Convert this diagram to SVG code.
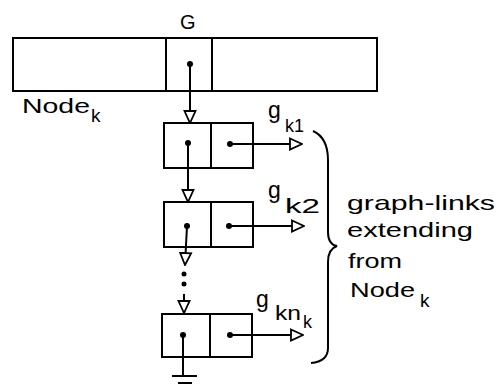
<svg xmlns="http://www.w3.org/2000/svg" width="501" height="388" viewBox="0 0 501 388">
<defs>
<style>
.ln{stroke:#000;stroke-width:2;fill:none}
.box{stroke:#000;stroke-width:2;fill:#fff}
.dot{fill:#000}
.t{font-family:"Liberation Sans","DejaVu Sans",sans-serif;fill:#000}
</style>
<marker id="ad" viewBox="0 0 14 14" refX="13" refY="7" markerWidth="14" markerHeight="14" markerUnits="userSpaceOnUse" orient="auto">
<path d="M1,1.5 L13,7 L1,12.5 Z" fill="#fff" stroke="#000" stroke-width="1.8"/>
</marker>
</defs>
<rect width="501" height="388" fill="#fff"/>

<g id="nodek">
<rect class="box" x="13" y="38" width="364" height="53"/>
<line class="ln" x1="166" y1="38" x2="166" y2="91"/>
<line class="ln" x1="212" y1="38" x2="212" y2="91"/>
<circle class="dot" cx="190" cy="64" r="3"/>
<text class="t" x="180" y="29" font-size="20">G</text>
<text class="t" x="22" y="113" font-size="21" textLength="68" lengthAdjust="spacingAndGlyphs">Node</text>
<text class="t" x="91" y="122" font-size="19">k</text>
</g>

<g id="link1">
<rect class="box" x="164" y="123" width="89" height="45"/>
<line class="ln" x1="211" y1="123" x2="211" y2="168"/>
<circle class="dot" cx="188" cy="143" r="3"/>
<circle class="dot" cx="230" cy="144" r="3"/>
<text class="t" x="268" y="118" font-size="23">g</text>
<text class="t" x="285" y="132" font-size="18">k1</text>
</g>

<g id="link2">
<rect class="box" x="164" y="202" width="89" height="45"/>
<line class="ln" x1="211" y1="202" x2="211" y2="247"/>
<circle class="dot" cx="187" cy="226" r="3"/>
<circle class="dot" cx="229" cy="226" r="3"/>
<text class="t" x="268" y="198" font-size="23">g</text>
<text class="t" x="285" y="213" font-size="20" textLength="35" lengthAdjust="spacingAndGlyphs">k2</text>
</g>

<g id="linkn">
<rect class="box" x="162" y="314" width="90" height="43"/>
<line class="ln" x1="210" y1="314" x2="210" y2="357"/>
<circle class="dot" cx="183" cy="335" r="3"/>
<circle class="dot" cx="230" cy="335" r="3"/>
<text class="t" x="256" y="307" font-size="23">g</text>
<text class="t" x="275" y="320" font-size="20" textLength="26" lengthAdjust="spacingAndGlyphs">kn</text>
<text class="t" x="303" y="328" font-size="18">k</text>
</g>

<g id="label">
<path class="ln" d="M313,131 C324,136 328,146 328,160 L328,232 C328,240 331,245 337,246 C331,248 328,253 328,262 L328,348 C328,357 322,362 311,363"/>
<text class="t" x="347" y="210" font-size="21" textLength="148" lengthAdjust="spacingAndGlyphs">graph-links</text>
<text class="t" x="347" y="237" font-size="21" textLength="126" lengthAdjust="spacingAndGlyphs">extending</text>
<text class="t" x="348" y="268" font-size="21" textLength="54" lengthAdjust="spacingAndGlyphs">from</text>
<text class="t" x="350" y="297" font-size="21" textLength="65" lengthAdjust="spacingAndGlyphs">Node</text>
<text class="t" x="420" y="307" font-size="19">k</text>
</g>

<g id="connectors">
<line class="ln" x1="190" y1="64" x2="190" y2="123" marker-end="url(#ad)"/>
<line class="ln" x1="188" y1="143" x2="188" y2="202" marker-end="url(#ad)"/>
<line class="ln" x1="187" y1="226" x2="185" y2="265" marker-end="url(#ad)"/>
<circle class="dot" cx="184" cy="274" r="2.5"/>
<circle class="dot" cx="184" cy="284" r="2.5"/>
<line class="ln" x1="184" y1="294" x2="184" y2="313" marker-end="url(#ad)"/>
<line class="ln" x1="230" y1="144" x2="302" y2="144" marker-end="url(#ad)"/>
<line class="ln" x1="229" y1="226" x2="304" y2="226" marker-end="url(#ad)"/>
<line class="ln" x1="230" y1="335" x2="303" y2="335" marker-end="url(#ad)"/>
<line class="ln" x1="183" y1="335" x2="183" y2="376"/>
<line class="ln" x1="172" y1="376" x2="197" y2="376"/>
<line class="ln" x1="178" y1="383" x2="192" y2="383"/>
</g>
</svg>
